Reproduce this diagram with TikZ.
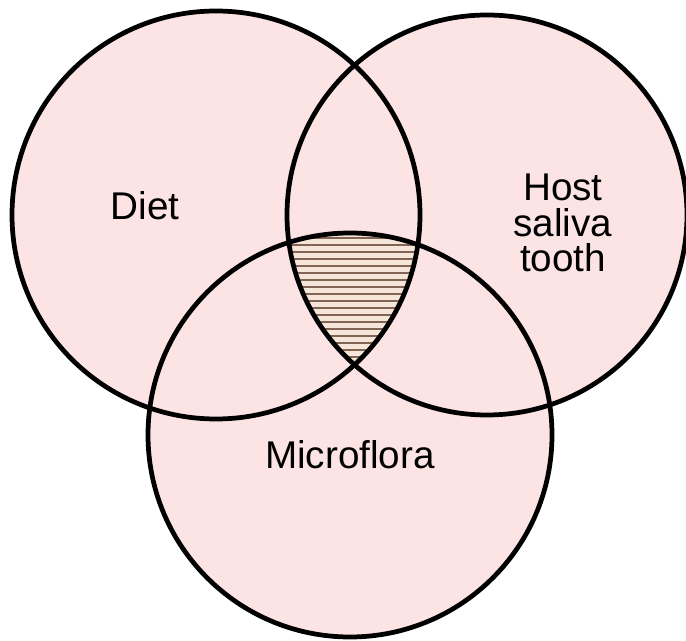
\documentclass[tikz,border=0pt]{standalone}
\usepackage{fontspec}
\setmainfont{Liberation Sans}
\usepackage{xcolor}
\usetikzlibrary{positioning}
\definecolor{vennpink}{RGB}{252,228,228}
\definecolor{hatchfill}{RGB}{246,230,218}
\definecolor{hatchline}{RGB}{130,100,85}
\tikzset{
  ring/.style={draw=black, line width=2.7pt},
  label/.style={align=center, font=\fontsize{22}{20}\selectfont, inner sep=0pt},
  hatchrule/.style={hatchline, line width=1pt},
}
\begin{document}
\begin{tikzpicture}[x=0.02cm, y=-0.02cm]
\useasboundingbox (0,0) rectangle (686,641);
\fill[white] (0,0) rectangle (686,641);
\coordinate (diet) at (216,215);
\coordinate (host) at (487,215);
\coordinate (flora) at (350,435);
\fill[vennpink] (diet) circle (204) (host) circle (200) (flora) circle (202);
% shared region of all three
\begin{scope}
  \clip (diet) circle (204);
  \clip (host) circle (200);
  \clip (flora) circle (202);
  \fill[hatchfill] (250,220) rectangle (450,380);
  \foreach \y in {238,245,...,366}{
    \draw[hatchrule] (250,\y) -- (450,\y);
  }
\end{scope}
\draw[ring] (diet) circle (204);
\draw[ring] (host) circle (200);
\draw[ring] (flora) circle (202);
\node[label] (dietlbl) at (145,206) {Diet};
\node[label] (hostlbl) at (563,223) {Host\\saliva\\tooth};
\node[label] (floralbl) at (350,455) {Microflora};
\end{tikzpicture}
\end{document}
